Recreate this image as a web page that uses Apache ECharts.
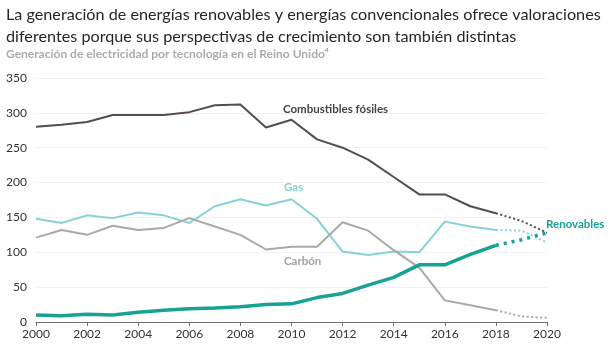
<!DOCTYPE html>
<html>
<head>
<meta charset="utf-8">
<script src="https://cdn.jsdelivr.net/npm/echarts@6/dist/echarts.min.js"></script>
<style>
  html, body { margin: 0; padding: 0; background: #fff; }
  #chart { width: 612px; height: 354px; }
</style>
</head>
<body>
<div id="chart"></div>
<script>
// años (eje x)
var years = [];
for (var y = 2000; y <= 2020; y++) years.push(String(y));

// TWh, 2019-2020 son proyecciones (línea punteada)
var fosiles = [280, 283, 287, 297, 297, 297, 301, 311, 312, 279, 290, 262, 250, 233, 208, 183, 183, 166, 156, 145, 128];
var gas = [148, 142, 153, 149, 157, 153, 142, 166, 176, 167, 176, 148, 101, 96, 101, 100, 144, 137, 132, 131, 114];
var carbon = [121, 132, 125, 138, 132, 135, 149, 137, 125, 104, 108, 108, 143, 131, 103, 78, 31, 24, 17, 8, 6];
var renovables = [10, 9, 11, 10, 14, 17, 19, 20, 22, 25, 26, 35, 41, 53, 64, 82, 82, 97, 110, 118, 128];
var lastReal = 18; // índice de 2018

var chart = echarts.init(document.getElementById('chart'));
var FONT = 'Lato';

function solid(arr) {
  return arr.map(function(v, i) { return i <= lastReal ? v : null; });
}
function proj(arr) {
  return arr.map(function(v, i) { return i >= lastReal ? v : null; });
}
function serie(name, arr, color, width) {
  return [{
    name: name, type: 'line', data: solid(arr), symbol: 'none',
    lineStyle: { color: color, width: width }, z: width > 3 ? 5 : 3
  }, {
    name: name + ' (proy.)', type: 'line', data: proj(arr), symbol: 'none',
    lineStyle: { color: color, width: width, type: [width > 3 ? 3 : 2, width > 3 ? 5 : 2.5] },
    z: width > 3 ? 5 : 3
  }];
}

var series = [].concat(
  serie('Combustibles fósiles', fosiles, '#564c4b', 2),
  serie('Gas', gas, '#86d2d9', 2),
  serie('Carbón', carbon, '#a9a9a9', 2),
  serie('Renovables', renovables, '#17a394', 3.5)
);

chart.setOption({
  animation: false,
  textStyle: { fontFamily: FONT },
  title: [{
    text: 'La generación de energías renovables y energías convencionales ofrece valoraciones\ndiferentes porque sus perspectivas de crecimiento son también distintas',
    left: 6, top: 4, padding: 0,
    textStyle: { fontFamily: FONT, fontSize: 16.2, fontWeight: 'normal', color: '#262626', lineHeight: 22 }
  }, {
    text: 'Generación de electricidad por tecnología en el Reino Unido⁴',
    left: 6, top: 48, padding: 0,
    textStyle: { fontFamily: FONT, fontSize: 12, fontWeight: 'bold', color: '#ababab' }
  }],
  grid: { left: 36, right: 65, top: 78, bottom: 32 },
  xAxis: {
    type: 'category', data: years, boundaryGap: false,
    axisLine: { lineStyle: { color: '#6f6f6f', width: 1 } },
    axisTick: { show: true, interval: 1, length: 4, lineStyle: { color: '#6f6f6f' } },
    axisLabel: { interval: 1, color: '#333', fontSize: 12, margin: 6, fontFamily: FONT }
  },
  yAxis: {
    type: 'value', min: 0, max: 350, interval: 50,
    axisLine: { show: false }, axisTick: { show: false },
    axisLabel: { color: '#333', fontSize: 12, margin: 9, fontFamily: FONT },
    splitLine: { lineStyle: { color: '#f1f1f1', width: 1 } }
  },
  series: series,
  graphic: [
    { type: 'text', left: 283, top: 103, style: { text: 'Combustibles fósiles', fill: '#4a4342', font: 'bold 11.5px Lato' } },
    { type: 'text', left: 284, top: 181, style: { text: 'Gas', fill: '#86d2d9', font: 'bold 11.5px Lato' } },
    { type: 'text', left: 284, top: 255, style: { text: 'Carbón', fill: '#a3a3a3', font: 'bold 11.5px Lato' } },
    { type: 'text', left: 546, top: 218, style: { text: 'Renovables', fill: '#17a394', font: 'bold 11.5px Lato' } }
  ]
});
</script>
</body>
</html>
